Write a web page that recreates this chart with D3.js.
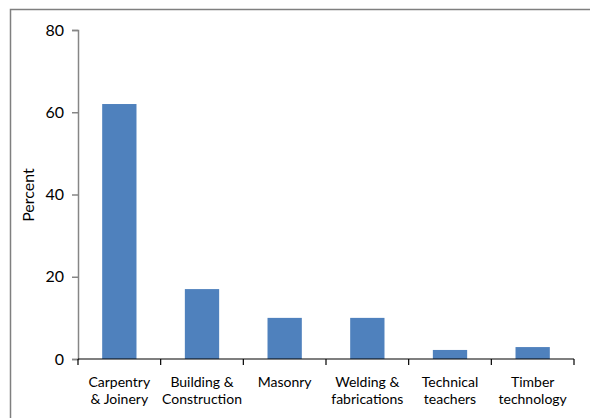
<!DOCTYPE html>
<html><head><meta charset="utf-8">
<script src="https://cdn.jsdelivr.net/npm/d3@7"></script>
<style>body{margin:0;background:#fff}svg{display:block}text{font-family:Lato,"Open Sans",sans-serif;fill:#000}</style>
</head><body><svg id="c" width="590" height="418"></svg>
<script>
const categories = [["Carpentry","& Joinery"],["Building &","Construction"],["Masonry"],["Welding &","fabrications"],["Technical","teachers"],["Timber","technology"]];
const values = [62, 17, 10, 10, 2.2, 2.9];
const yTicks = [0, 20, 40, 60, 80];
const yLabel = "Percent";

const svg = d3.select("#c");
svg.append("rect").attr("x",10.5).attr("y",9.5).attr("width",600).attr("height",420)
  .attr("fill","none").attr("stroke","#7f7f7f").attr("stroke-width",1.5);

const m = {l:78, r:574, t:30, b:359};
const keys = categories.map((d,i)=>i);
const x = d3.scaleBand().domain(keys).range([m.l,m.r]).paddingInner(0.585).paddingOuter(0.2925);
const xb = d3.scaleBand().domain(keys).range([m.l,m.r]);
const y = d3.scaleLinear().domain([0,80]).range([m.b,m.t]);

svg.selectAll("rect.bar").data(values).join("rect").attr("class","bar")
  .attr("x",(d,i)=>x(i)).attr("width",x.bandwidth())
  .attr("y",d=>y(d)).attr("height",d=>y(0)-y(d)).attr("fill","#4f81bd");

// y axis
const ya = svg.append("g").attr("transform",`translate(${m.l},0)`)
  .call(d3.axisLeft(y).tickValues(yTicks).tickSize(6).tickPadding(8).tickFormat(d3.format("d")));
ya.select(".domain").attr("stroke","#868686").attr("stroke-width",1.5);
ya.selectAll(".tick line").attr("stroke","#868686").attr("stroke-width",1.5);
ya.selectAll("text").style("font-size","16px").attr("fill","#000");

// x axis
const xa = svg.append("g").attr("transform",`translate(0,${m.b})`);
xa.append("line").attr("x1",m.l).attr("x2",m.r).attr("stroke","#000").attr("stroke-width",1.2);
const bounds = keys.map(i=>xb(i)).concat([m.r]);
xa.selectAll("line.tk").data(bounds).join("line").attr("class","tk")
  .attr("x1",d=>d).attr("x2",d=>d).attr("y1",0).attr("y2",6).attr("stroke","#000").attr("stroke-width",1.2);
const lines = [];
categories.forEach((c,i)=>c.forEach((t,j)=>lines.push({t,i,j})));
xa.selectAll("text.cat").data(lines).join("text").attr("class","cat")
  .attr("text-anchor","middle").style("font-size","14px")
  .attr("x",d=>xb(d.i)+xb.bandwidth()/2).attr("y",d=>28+d.j*16.5).text(d=>d.t);

svg.append("text").attr("transform","translate(34,195) rotate(-90)").attr("text-anchor","middle")
  .style("font-size","16px").text(yLabel);
</script></body></html>
